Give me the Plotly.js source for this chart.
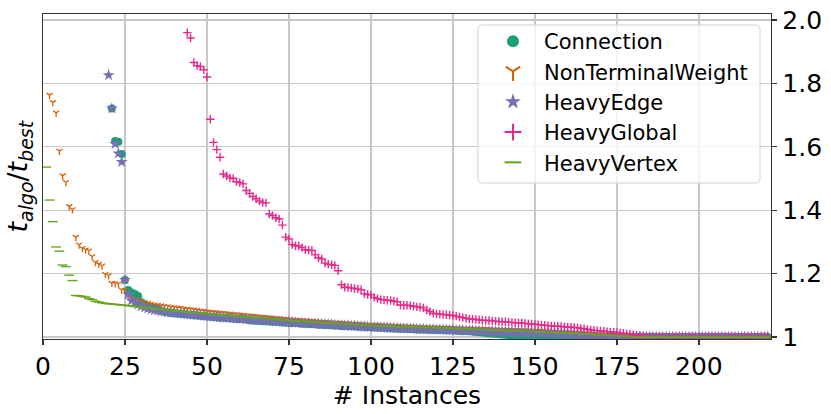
<!DOCTYPE html>
<html>
<head>
<meta charset="utf-8">
<script src="https://cdn.plot.ly/plotly-3.0.1.min.js"></script>
<style>html,body{margin:0;padding:0;background:#fff;}#chart{width:831px;height:414px;}</style>
</head>
<body>
<div id="chart"></div>
<script>
// Series names (legend order = draw order)
const seriesNames = ["Connection", "NonTerminalWeight", "HeavyEdge", "HeavyGlobal", "HeavyVertex"];

// First visible instance index of each sorted series (earlier ones are above 2.0)
const connStart = 21;
const ntwStart = 2;
const edgeStart = 20;
const globalStart = 44;
const vertexStart = 1;

// t_algo / t_best, sorted descending
const connVals = [
1.721,1.618,1.616,1.577,1.180,
1.148,1.140,1.136,1.129,1.110,
1.103,1.098,1.094,1.091,1.088,
1.082,1.080,1.078,1.076,1.075,
1.074,1.073,1.072,1.071,1.070,
1.069,1.068,1.067,1.066,1.065,
1.064,1.063,1.062,1.061,1.061,
1.060,1.059,1.058,1.057,1.057,
1.056,1.055,1.053,1.052,1.051,
1.051,1.050,1.050,1.049,1.048,
1.048,1.047,1.046,1.046,1.045,
1.044,1.044,1.043,1.042,1.042,
1.041,1.041,1.040,1.039,1.039,
1.038,1.038,1.037,1.036,1.036,
1.035,1.035,1.034,1.034,1.033,
1.033,1.032,1.032,1.031,1.031,
1.030,1.030,1.029,1.029,1.028,
1.028,1.027,1.027,1.026,1.026,
1.026,1.025,1.025,1.024,1.024,
1.024,1.023,1.023,1.023,1.022,
1.022,1.022,1.021,1.021,1.021,
1.020,1.020,1.019,1.019,1.018,
1.017,1.016,1.015,1.014,1.013,
1.012,1.011,1.010,1.009,1.008,
1.007,1.006,1.005,1.004,1.003,
1.002,1.002,1.001,1.001,1.000,
1.000,1.000,1.000,1.000,1.000,
1,1,1,1,1,1,1,1,1,1,
1,1,1,1,1,1,1,1,1,1,
1,1,1,1,1,1,1,1,1,1,
1,1,1,1,1,1,1,1,1,1,
1,1,1,1,1,1,1,1,1,1,
1,1,1,1,1,1,1,1,1,1,
1,1,1,1,1,1
];

const ntwVals = [
1.763,1.740,1.707,1.587,1.509,
1.488,1.412,1.402,1.315,1.291,
1.280,1.275,1.272,1.254,1.236,
1.230,1.225,1.198,1.194,1.170,
1.169,1.168,1.149,1.146,1.127,
1.122,1.118,1.114,1.111,1.108,
1.106,1.104,1.102,1.100,1.099,
1.097,1.096,1.094,1.093,1.092,
1.091,1.089,1.088,1.087,1.086,
1.084,1.083,1.082,1.080,1.079,
1.078,1.077,1.076,1.075,1.074,
1.073,1.072,1.071,1.070,1.069,
1.068,1.067,1.066,1.065,1.064,
1.063,1.062,1.061,1.060,1.059,
1.058,1.057,1.056,1.055,1.054,
1.053,1.053,1.052,1.051,1.050,
1.050,1.049,1.048,1.047,1.047,
1.046,1.046,1.045,1.044,1.044,
1.043,1.042,1.042,1.041,1.040,
1.040,1.039,1.038,1.038,1.037,
1.037,1.036,1.036,1.035,1.035,
1.034,1.034,1.033,1.033,1.032,
1.032,1.032,1.031,1.031,1.030,
1.030,1.030,1.029,1.029,1.029,
1.028,1.028,1.028,1.027,1.027,
1.027,1.026,1.026,1.026,1.025,
1.025,1.025,1.024,1.024,1.024,
1.023,1.023,1.023,1.022,1.022,
1.022,1.021,1.021,1.021,1.020,
1.020,1.020,1.019,1.019,1.018,
1.018,1.017,1.017,1.016,1.016,
1.015,1.015,1.014,1.014,1.013,
1.013,1.012,1.012,1.011,1.010,
1.010,1.009,1.008,1.008,1.007,
1.006,1.006,1.005,1.004,1.004,
1.003,1.002,1.002,1.001,1.000,
1,1,1,1,1,1,1,1,1,1,
1,1,1,1,1,1,1,1,1,1,
1,1,1,1,1,1,1,1,1,1,
1,1,1,1,1,1,1,1,1,1
];

const edgeVals = [
1.826,1.721,1.609,1.579,1.552,
1.180,1.135,1.115,1.108,1.102,
1.097,1.093,1.090,1.087,1.085,
1.083,1.081,1.080,1.078,1.077,
1.076,1.075,1.074,1.073,1.072,
1.071,1.070,1.069,1.068,1.067,
1.066,1.065,1.064,1.063,1.062,
1.062,1.061,1.060,1.059,1.058,
1.058,1.057,1.056,1.055,1.055,
1.054,1.053,1.052,1.052,1.051,
1.050,1.049,1.049,1.048,1.047,
1.047,1.046,1.045,1.045,1.044,
1.043,1.043,1.042,1.042,1.041,
1.040,1.040,1.039,1.039,1.038,
1.037,1.037,1.036,1.036,1.035,
1.035,1.034,1.033,1.033,1.032,
1.032,1.031,1.031,1.030,1.030,
1.029,1.029,1.028,1.028,1.027,
1.027,1.027,1.026,1.026,1.025,
1.025,1.025,1.024,1.024,1.024,
1.023,1.023,1.023,1.022,1.022,
1.022,1.021,1.021,1.021,1.020,
1.020,1.020,1.019,1.019,1.019,
1.018,1.018,1.018,1.017,1.017,
1.017,1.016,1.016,1.016,1.015,
1.015,1.015,1.014,1.014,1.014,
1.013,1.013,1.013,1.012,1.012,
1.012,1.011,1.011,1.010,1.010,
1.009,1.009,1.008,1.008,1.007,
1.007,1.006,1.006,1.005,1.005,
1.004,1.003,1.003,1.002,1.002,
1.001,1.001,1.000,1.000,1.000,
1,1,1,1,1,1,1,1,1,1,
1,1,1,1,1,1,1,1,1,1,
1,1,1,1,1,1,1,1,1,1,
1,1,1,1,1,1,1,1,1,1,
1,1
];

const globalVals = [
1.960,1.943,1.866,1.856,1.853,
1.843,1.820,1.687,1.614,1.591,
1.567,1.514,1.508,1.502,1.500,
1.490,1.487,1.483,1.462,1.453,
1.443,1.436,1.429,1.424,1.423,
1.388,1.383,1.376,1.372,1.353,
1.315,1.309,1.292,1.288,1.287,
1.282,1.275,1.274,1.273,1.259,
1.250,1.246,1.233,1.230,1.228,
1.226,1.209,1.165,1.157,1.156,
1.155,1.153,1.151,1.149,1.136,
1.134,1.133,1.125,1.121,1.118,
1.117,1.116,1.115,1.113,1.111,
1.101,1.100,1.100,1.099,1.097,
1.095,1.094,1.092,1.085,1.080,
1.075,1.073,1.072,1.071,1.070,
1.069,1.068,1.066,1.063,1.061,
1.059,1.057,1.056,1.055,1.054,
1.053,1.052,1.052,1.051,1.050,
1.049,1.048,1.048,1.047,1.046,
1.045,1.044,1.044,1.043,1.042,
1.041,1.040,1.039,1.038,1.037,
1.036,1.035,1.034,1.034,1.033,
1.032,1.031,1.031,1.030,1.029,
1.027,1.026,1.024,1.022,1.021,
1.020,1.019,1.018,1.017,1.016,
1.015,1.014,1.013,1.012,1.010,
1.009,1.007,1.006,1.005,1.003,
1,1,1,1,1,1,1,1,1,1,
1,1,1,1,1,1,1,1,1,1,
1,1,1,1,1,1,1,1,1,1,
1,1,1,1,1,1,1,1
];

const vertexVals = [
1.536,1.432,1.364,1.284,1.271,
1.227,1.222,1.195,1.178,1.131,
1.130,1.128,1.126,1.121,1.118,
1.113,1.110,1.108,1.106,1.105,
1.104,1.103,1.102,1.101,1.100,
1.099,1.098,1.097,1.095,1.094,
1.092,1.091,1.090,1.089,1.088,
1.087,1.086,1.085,1.084,1.083,
1.082,1.081,1.080,1.079,1.078,
1.077,1.076,1.075,1.074,1.073,
1.072,1.071,1.070,1.069,1.069,
1.068,1.067,1.066,1.066,1.065,
1.064,1.063,1.063,1.062,1.061,
1.060,1.060,1.059,1.058,1.057,
1.056,1.055,1.054,1.053,1.052,
1.051,1.051,1.050,1.049,1.049,
1.048,1.047,1.047,1.046,1.045,
1.045,1.044,1.044,1.043,1.042,
1.042,1.041,1.041,1.040,1.039,
1.039,1.038,1.038,1.037,1.036,
1.036,1.035,1.035,1.034,1.034,
1.034,1.033,1.033,1.033,1.032,
1.032,1.032,1.031,1.031,1.031,
1.030,1.030,1.030,1.030,1.029,
1.029,1.029,1.028,1.028,1.027,
1.027,1.026,1.026,1.026,1.025,
1.025,1.024,1.024,1.024,1.023,
1.023,1.022,1.022,1.022,1.021,
1.021,1.020,1.020,1.020,1.019,
1.019,1.018,1.018,1.017,1.017,
1.016,1.016,1.015,1.015,1.014,
1.014,1.014,1.013,1.013,1.012,
1.012,1.011,1.011,1.010,1.010,
1.009,1.009,1.008,1.007,1.007,
1.006,1.006,1.005,1.005,1.004,
1.003,1.003,1.002,1.001,1.001,
1,1,1,1,1,1,1,1,1,1,
1,1,1,1,1,1,1,1,1,1,
1,1,1,1,1,1,1,1,1,1,
1,1,1,1,1,1,1,1,1,1,
1
];

const xTickVals = [0, 25, 50, 75, 100, 125, 150, 175, 200];
const yTickVals = [1, 1.2, 1.4, 1.6, 1.8, 2.0];
const yTickText = ["1", "1.2", "1.4", "1.6", "1.8", "2.0"];

function idx(start, vals) { return vals.map((_, k) => start + k); }

const FONT = "DejaVu Sans, sans-serif";

const traces = [
  {name: seriesNames[0], x: idx(connStart, connVals), y: connVals, legendgroup: "g0",
   marker: {symbol: "circle", size: 8, color: "#1b9e77"}},
  {name: seriesNames[1], x: idx(ntwStart, ntwVals), y: ntwVals, legendgroup: "g1",
   marker: {symbol: "y-down", size: 5, color: "#d95f02", line: {color: "#d95f02", width: 1.3}}},
  {name: seriesNames[2], x: idx(edgeStart, edgeVals), y: edgeVals, legendgroup: "g2",
   marker: {symbol: "star", size: 9, color: "#7570b3"}},
  {name: seriesNames[3], x: idx(globalStart, globalVals), y: globalVals, legendgroup: "g3",
   marker: {symbol: "cross-thin", size: 6, color: "#e7298a", line: {color: "#e7298a", width: 1.4}}},
  {name: seriesNames[4], x: idx(vertexStart, vertexVals), y: vertexVals, legendgroup: "g4",
   marker: {symbol: "line-ew", size: 7, color: "#66a61e", line: {color: "#66a61e", width: 1.4}}}
].map(t => Object.assign({type: "scatter", mode: "markers"}, t));

// legend frame (rounded, semi-transparent) in paper coordinates
const bx0 = 0.5975, bx1 = 0.9849, by0 = 0.48, by1 = 0.9662, rx = 0.006, ry = 0.013;
const framePath = `M ${bx0+rx},${by1} L ${bx1-rx},${by1} Q ${bx1},${by1} ${bx1},${by1-ry} L ${bx1},${by0+ry} Q ${bx1},${by0} ${bx1-rx},${by0} L ${bx0+rx},${by0} Q ${bx0},${by0} ${bx0},${by0+ry} L ${bx0},${by1-ry} Q ${bx0},${by1} ${bx0+rx},${by1} Z`;

const layout = {
  width: 831, height: 414,
  margin: {l: 43, r: 60, t: 14, b: 75, pad: 0},
  paper_bgcolor: "#ffffff", plot_bgcolor: "#ffffff",
  font: {family: FONT, color: "#000000", size: 25},
  showlegend: true,
  xaxis: {
    range: [0, 222], tickvals: xTickVals, ticktext: xTickVals.map(String),
    showgrid: true, gridcolor: "#c8c8c8", gridwidth: 1.3,
    zeroline: false, showline: true, linecolor: "#333333", linewidth: 1.3, mirror: true,
    ticks: "outside", ticklen: 5, tickwidth: 1.3, tickcolor: "#333333",
    tickfont: {family: FONT, size: 25, color: "#000"},
    automargin: true,
    title: {text: "# Instances", font: {family: FONT, size: 25, color: "#000"}, standoff: 0}
  },
  yaxis: {
    side: "right",
    range: [0.9937, 2.0189], tickvals: yTickVals, ticktext: yTickText,
    showgrid: true, gridcolor: "#c8c8c8", gridwidth: 1.3,
    zeroline: false, showline: true, linecolor: "#333333", linewidth: 1.3, mirror: true,
    ticks: "outside", ticklen: 5, tickwidth: 1.3, tickcolor: "#333333",
    tickfont: {family: FONT, size: 25, color: "#000"}, automargin: false
  },
  legend: {
    x: 0.6030, y: 0.9785, xanchor: "left", yanchor: "top",
    bgcolor: "rgba(0,0,0,0)", borderwidth: 0,
    font: {family: FONT, size: 21, color: "#000"},
    itemsizing: "constant", tracegroupgap: 0, itemwidth: 52
  },
  shapes: [{
    type: "path", xref: "paper", yref: "paper", layer: "above",
    path: framePath, fillcolor: "rgba(255,255,255,0.8)",
    line: {color: "#d0d0d0", width: 1}
  }],
  annotations: [{
    xref: "paper", yref: "paper", x: -0.0316, y: 0.5,
    xanchor: "center", yanchor: "middle", textangle: -90, showarrow: false,
    text: "<i>t</i><sub><i>algo</i></sub>/<i>t</i><sub><i>best</i></sub>",
    font: {family: FONT, size: 27, color: "#000"}
  }]
};

Plotly.newPlot("chart", traces, layout, {displayModeBar: false, staticPlot: true});
</script>
</body>
</html>
